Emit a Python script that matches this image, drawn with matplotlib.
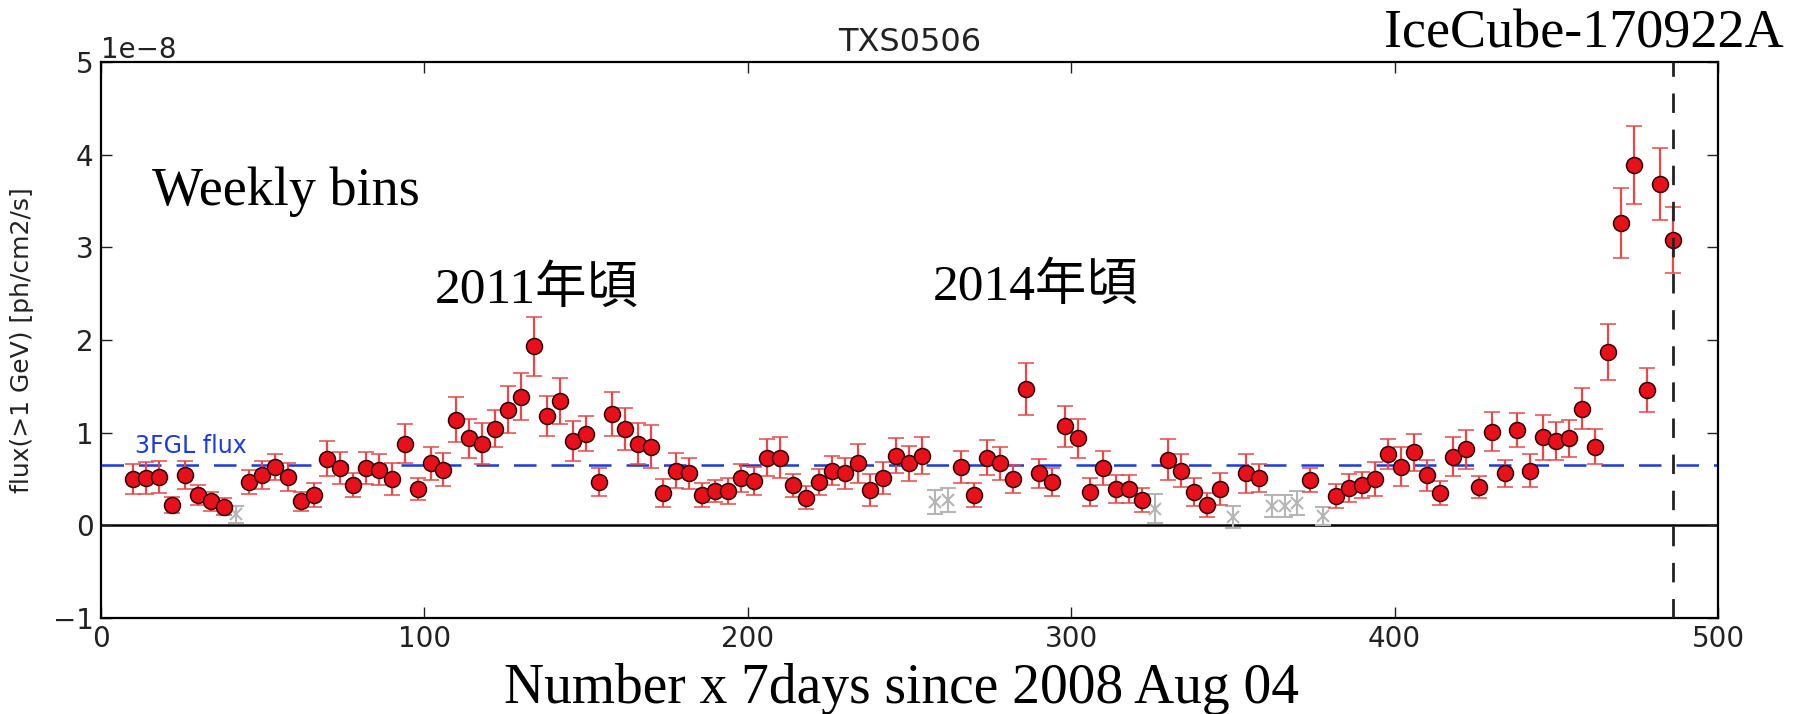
import matplotlib
matplotlib.use("Agg")
import matplotlib.pyplot as plt

# ---- data (flux in units of 1e-8 ph/cm2/s) ----
det_x = [10, 14, 18, 22, 26, 30, 34, 38,
         46, 50, 54, 58, 62, 66, 70, 74, 78, 82, 86, 90, 94, 98, 102, 106,
         110, 114, 118, 122, 126, 130, 134, 138, 142, 146, 150, 154, 158, 162,
         166, 170, 174, 178, 182, 186, 190, 194, 198, 202, 206, 210, 214, 218,
         222, 226, 230, 234, 238, 242, 246, 250, 254,
         266, 270, 274, 278, 282, 286, 290, 294, 298, 302, 306, 310, 314, 318, 322,
         330, 334, 338, 342, 346,
         354, 358,
         374,
         382, 386, 390, 394, 398, 402, 406, 410, 414, 418, 422, 426, 430, 434,
         438, 442, 446, 450, 454, 458, 462, 466, 470, 474, 478, 482, 486]
det_flux = [0.50, 0.51, 0.52, 0.22, 0.54, 0.33, 0.26, 0.20,
            0.47, 0.54, 0.63, 0.52, 0.26, 0.33, 0.72, 0.62, 0.44, 0.62, 0.60, 0.50, 0.88, 0.39, 0.67, 0.60,
            1.14, 0.94, 0.88, 1.04, 1.25, 1.39, 1.93, 1.18, 1.34, 0.91, 0.99, 0.47, 1.20, 1.04,
            0.88, 0.85, 0.35, 0.59, 0.56, 0.33, 0.37, 0.37, 0.51, 0.48, 0.73, 0.73, 0.43, 0.30,
            0.47, 0.59, 0.56, 0.67, 0.38, 0.51, 0.75, 0.67, 0.75,
            0.63, 0.33, 0.73, 0.67, 0.50, 1.47, 0.56, 0.47, 1.07, 0.94, 0.36, 0.62, 0.39, 0.39, 0.27,
            0.71, 0.59, 0.36, 0.22, 0.39,
            0.56, 0.51,
            0.49,
            0.32, 0.40, 0.44, 0.50, 0.77, 0.63, 0.79, 0.54, 0.35, 0.74, 0.82, 0.41, 1.01, 0.56,
            1.03, 0.59, 0.95, 0.91, 0.94, 1.26, 0.85, 1.87, 3.26, 3.89, 1.46, 3.68, 3.08]
det_err = [0.16, 0.17, 0.17, 0.09, 0.15, 0.11, 0.10, 0.09,
           0.13, 0.15, 0.14, 0.15, 0.10, 0.13, 0.19, 0.17, 0.13, 0.17, 0.17, 0.17, 0.21, 0.12, 0.18, 0.18,
           0.24, 0.21, 0.22, 0.20, 0.25, 0.25, 0.32, 0.22, 0.25, 0.22, 0.19, 0.15, 0.24, 0.23,
           0.22, 0.23, 0.15, 0.19, 0.17, 0.13, 0.12, 0.14, 0.15, 0.15, 0.20, 0.22, 0.12, 0.12,
           0.14, 0.16, 0.17, 0.21, 0.17, 0.17, 0.19, 0.19, 0.20,
           0.17, 0.13, 0.19, 0.18, 0.15, 0.28, 0.16, 0.15, 0.22, 0.21, 0.15, 0.18, 0.15, 0.15, 0.13,
           0.22, 0.18, 0.15, 0.13, 0.17,
           0.21, 0.15,
           0.13,
           0.13, 0.15, 0.14, 0.18, 0.16, 0.21, 0.20, 0.17, 0.13, 0.21, 0.21, 0.12, 0.21, 0.15,
           0.18, 0.18, 0.24, 0.21, 0.20, 0.22, 0.19, 0.30, 0.38, 0.42, 0.24, 0.39, 0.36]

ul_x = [42, 258, 262, 326, 350, 362, 366, 370, 378]
ul_flux = [0.12, 0.25, 0.27, 0.18, 0.09, 0.21, 0.21, 0.24, 0.10]
ul_err = [0.09, 0.13, 0.13, 0.16, 0.12, 0.12, 0.12, 0.13, 0.10]

fgl_flux = 0.655
event_x = 486
SCALE = 1e-8

# ---- figure ----
W, H = 1793, 714
fig = plt.figure(figsize=(W / 100, H / 100), dpi=100)
ax = fig.add_axes([100.6 / W, 1 - 618 / H, (1718 - 100.6) / W, (618 - 62) / H])

ax.errorbar(ul_x, [v * SCALE for v in ul_flux], yerr=[e * SCALE for e in ul_err],
            fmt='x', color='#b5b5b5', ecolor='#b5b5b5', markersize=8, mew=1.5,
            elinewidth=1.5, capsize=6, capthick=1.5, zorder=2)
ax.errorbar(det_x, [v * SCALE for v in det_flux], yerr=[e * SCALE for e in det_err],
            fmt='o', color='#e8101a', ecolor='#e84848', mec='#300000', mew=1.1,
            markersize=11.5, elinewidth=1.6, capsize=6, capthick=1.5, zorder=3)

ax.axhline(0, color='black', lw=1.8, zorder=1)
ax.axhline(fgl_flux * SCALE, color='#1a3be0', lw=1.8, dashes=(9, 6), zorder=1)
ax.axvline(event_x, color='#222222', lw=2.0, dashes=(7, 6), zorder=4)

ax.set_xlim(0, 500)
ax.set_ylim(-1e-8, 5e-8)
ax.set_xticks([0, 100, 200, 300, 400, 500])
ax.tick_params(direction='in', top=True, right=True, length=8, width=1,
               labelsize=20, pad=5, colors='#222222')
ax.yaxis.get_offset_text().set_fontsize(20)
for s in ax.spines.values():
    s.set_linewidth(1.6)

ax.set_title('TXS0506', fontsize=23, pad=8, color='#222222')
ax.set_ylabel('flux(>1 GeV) [ph/cm2/s]', fontsize=18, color='#222222')
ax.yaxis.set_label_coords(-0.041, 0.5)

fig.text(135 / W, 1 - 453 / H, '3FGL flux', color='#1a3be0', fontsize=17)

serif = ['Liberation Serif', 'Noto Sans CJK JP']
fig.text(152 / W, 1 - 205 / H, 'Weekly bins', family=serif, fontsize=39, va='baseline')
fig.text(435 / W, 1 - 303 / H, '2011年頃', family=serif, fontsize=37, va='baseline')
fig.text(933 / W, 1 - 300 / H, '2014年頃', family=serif, fontsize=37, va='baseline')
fig.text(1784 / W, 1 - 48 / H, 'IceCube-170922A', family=serif, fontsize=39,
         va='baseline', ha='right')
fig.text(902 / W, 1 - 703 / H, 'Number x 7days since 2008 Aug 04', family=serif,
         fontsize=40, va='baseline', ha='center')

fig.savefig('out.png', dpi=100)
